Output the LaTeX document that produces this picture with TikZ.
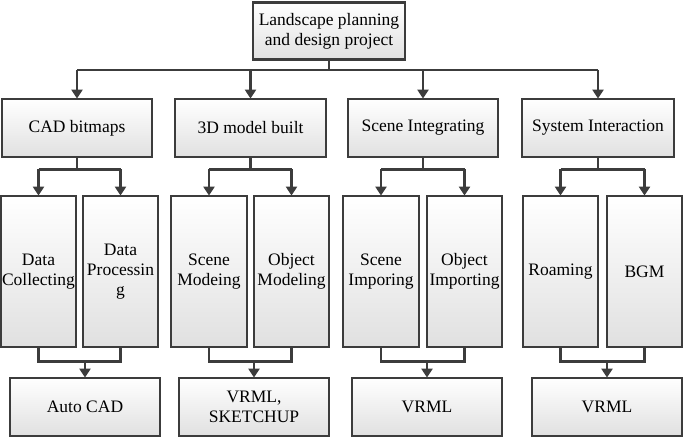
\documentclass[tikz,border=0pt]{standalone}
\usepackage{fontspec}
\setmainfont{Liberation Serif}
\usetikzlibrary{arrows.meta}
\definecolor{edge}{HTML}{3c3c3c}
\begin{document}
\begin{tikzpicture}[x=1pt,y=-1pt,
  box/.style={draw=edge, line width=2.8pt, rectangle, inner sep=0pt,
    top color=white, bottom color=black!12, align=center,
    font=\fontsize{17.5}{20}\selectfont, text=black},
  conn/.style={draw=edge, line width=2.6pt},
  arr/.style={conn, -{Triangle[length=9pt,width=11pt]}, shorten >=-1pt}]
\useasboundingbox (0,0) rectangle (685,439);
% top
\node[box, minimum width=152pt, minimum height=57pt] (top) at (329,31) {Landscape planning\\and design project};
% level 1
\node[box, minimum width=150pt, minimum height=58pt] (cad) at (77,128) {CAD bitmaps};
\node[box, minimum width=151pt, minimum height=58pt] (mdl) at (250.5,128) {3D model built};
\node[box, minimum width=150pt, minimum height=58pt] (sci) at (423,128) {Scene Integrating};
\node[box, minimum width=152pt, minimum height=58pt] (sys) at (598,128) {System Interaction};
% level 2
\node[box, minimum width=75pt, minimum height=151pt] (dc) at (38.5,271.5) {Data\\Collecting};
\node[box, minimum width=75pt, minimum height=151pt] (dp) at (120.5,271.5) {Data\\Processin\\g};
\node[box, minimum width=76pt, minimum height=151pt] (sm) at (209,271.5) {Scene\\Modeing};
\node[box, minimum width=75pt, minimum height=151pt] (om) at (291.5,271.5) {Object\\Modeling};
\node[box, minimum width=76pt, minimum height=151pt] (si) at (381,271.5) {Scene\\Imporing};
\node[box, minimum width=75pt, minimum height=151pt] (oi) at (464.5,271.5) {Object\\Importing};
\node[box, minimum width=75pt, minimum height=151pt] (ro) at (560.5,271.5) {Roaming};
\node[box, minimum width=75pt, minimum height=151pt] (bg) at (644.5,271.5) {BGM};
% level 3
\node[box, minimum width=150pt, minimum height=58pt] (ac) at (85,407) {Auto CAD};
\node[box, minimum width=150pt, minimum height=58pt] (vs) at (254,407) {VRML,\\SKETCHUP};
\node[box, minimum width=150pt, minimum height=58pt] (v1) at (427,407) {VRML};
\node[box, minimum width=150pt, minimum height=58pt] (v2) at (607,407) {VRML};
% top branch
\draw[conn] (top.south) -- ++(0,9) coordinate (tj);
\draw[conn] (cad.north |- tj) -- (sys.north |- tj);
\foreach \n in {cad,mdl,sci,sys} \draw[arr] (\n.north |- tj) -- (\n.north);
% level 1 -> level 2
\foreach \p/\a/\b in {cad/dc/dp, mdl/sm/om, sci/si/oi, sys/ro/bg} {
  \draw[conn] (\p.south) -- ++(0,11) coordinate (j);
  \draw[conn] (\a.north |- j) -- (\b.north |- j);
  \draw[arr] (\a.north |- j) -- (\a.north);
  \draw[arr] (\b.north |- j) -- (\b.north);
}
% level 2 -> level 3
\foreach \a/\b/\c in {dc/dp/ac, sm/om/vs, si/oi/v1, ro/bg/v2} {
  \draw[conn] (\a.south) -- ++(0,13) coordinate (k) -| (\b.south);
  \draw[arr] (\c.north |- k) -- (\c.north);
}
\end{tikzpicture}
\end{document}
